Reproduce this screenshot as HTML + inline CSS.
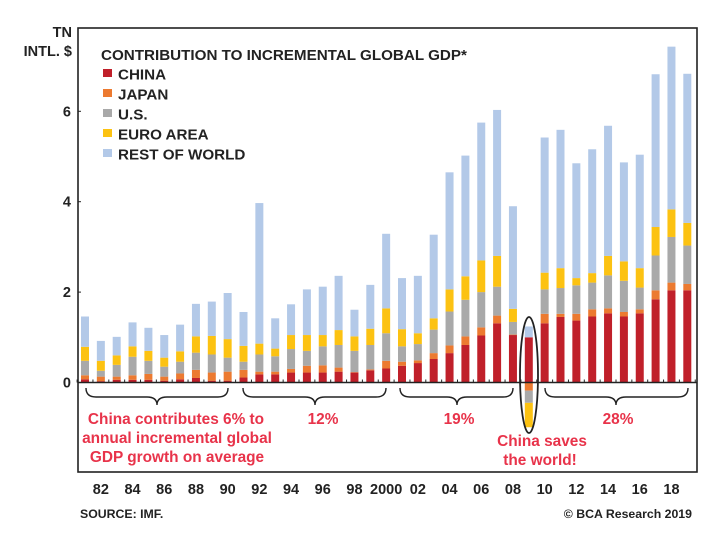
<!DOCTYPE html>
<html><head><meta charset="utf-8">
<style>
html,body{margin:0;padding:0;background:#fff;}
svg{display:block;font-family:"Liberation Sans",Arial,sans-serif;}
</style></head>
<body>
<svg id="chart" width="714" height="538" viewBox="0 0 714 538" xmlns="http://www.w3.org/2000/svg">
<rect x="0" y="0" width="714" height="538" fill="#fff"/>
<text x="72" y="37" text-anchor="end" font-size="14.5" font-weight="bold" fill="#222">TN</text>
<text x="72" y="56" text-anchor="end" font-size="14.5" font-weight="bold" fill="#222">INTL. $</text>
<rect x="78" y="28" width="619" height="444" fill="none" stroke="#222" stroke-width="1.6"/>
<g id="bars"></g>
<g id="axis"></g>
<text x="101" y="60" font-size="15.2" font-weight="bold" fill="#222">CONTRIBUTION TO INCREMENTAL GLOBAL GDP*</text>
<g id="legend"></g>
<g fill="none" stroke="#222" stroke-width="1.4">
<path d="M86,388 Q86,397 96,397 L147,397 Q157,397 157,405 Q157,397 167,397 L218,397 Q228,397 228,388"/>
<path d="M243,388 Q243,397 253,397 L305,397 Q315,397 315,405 Q315,397 325,397 L376,397 Q386,397 386,388"/>
<path d="M400,388 Q400,397 410,397 L447,397 Q457,397 457,405 Q457,397 467,397 L503,397 Q513,397 513,388"/>
<path d="M545,388 Q545,397 555,397 L606,397 Q616,397 616,405 Q616,397 626,397 L678,397 Q688,397 688,388"/>
<ellipse cx="529" cy="375" rx="9" ry="58" stroke-width="1.8"/>
</g>
<g font-size="15.4" font-weight="bold" fill="#e8334a" text-anchor="middle">
<text x="176" y="424">China contributes 6% to</text>
<text x="177" y="443">annual incremental global</text>
<text x="177" y="462">GDP growth on average</text>
<text x="323" y="424">12%</text>
<text x="459" y="424">19%</text>
<text x="618" y="424">28%</text>
<text x="542" y="446">China saves</text>
<text x="540" y="465">the world!</text>
</g>
<text x="80" y="518" font-size="12.3" font-weight="bold" fill="#222">SOURCE: IMF.</text>
<text x="692" y="518" text-anchor="end" font-size="12.3" font-weight="bold" fill="#222">© BCA Research 2019</text>
</svg>
<script>
const years = [1981,1982,1983,1984,1985,1986,1987,1988,1989,1990,1991,1992,1993,1994,1995,1996,1997,1998,1999,2000,2001,2002,2003,2004,2005,2006,2007,2008,2009,2010,2011,2012,2013,2014,2015,2016,2017,2018,2019];
const china = [.07,.03,.06,.06,.06,.04,.07,.10,.04,.04,.11,.18,.18,.22,.22,.22,.24,.22,.27,.31,.37,.43,.52,.65,.83,1.04,1.31,1.05,1.00,1.31,1.45,1.37,1.46,1.53,1.46,1.53,1.84,2.04,2.04];
const japan = [.09,.10,.07,.10,.13,.09,.13,.18,.18,.20,.17,.06,.06,.08,.15,.16,.09,.01,.02,.17,.09,.06,.13,.17,.19,.18,.17,.01,-.18,.21,.07,.15,.16,.11,.10,.09,.20,.17,.14];
const us = [.32,.13,.26,.41,.29,.22,.26,.38,.40,.31,.18,.38,.34,.44,.33,.42,.50,.47,.54,.61,.34,.36,.52,.75,.81,.78,.64,.28,-.27,.54,.57,.63,.59,.73,.69,.48,.77,1.01,.85];
const euro = [.31,.22,.21,.23,.22,.20,.23,.36,.41,.41,.35,.24,.17,.31,.35,.25,.33,.32,.36,.55,.38,.24,.25,.49,.52,.70,.68,.29,-.54,.37,.44,.16,.21,.43,.43,.43,.63,.61,.50];
const row = [.67,.44,.41,.53,.51,.50,.59,.72,.76,1.02,.75,3.11,.67,.68,1.01,1.07,1.20,.59,.97,1.65,1.13,1.27,1.85,2.59,2.67,3.05,3.23,2.27,.24,2.99,3.06,2.54,2.74,2.88,2.19,2.51,3.38,3.60,3.30];
const yTicks = [0,2,4,6];
const xTickLabels = ["82","84","86","88","90","92","94","96","98","2000","02","04","06","08","10","12","14","16","18"];
const xTickYears = [1982,1984,1986,1988,1990,1992,1994,1996,1998,2000,2002,2004,2006,2008,2010,2012,2014,2016,2018];

const NS="http://www.w3.org/2000/svg";
const x = yr => 85 + (yr-1981)*15.85;
const y = v => 382.5 - v*45.2;
const series = [
 {name:"china",label:"CHINA",vals:china,color:"#c0202a"},
 {name:"japan",label:"JAPAN",vals:japan,color:"#ec7a30"},
 {name:"us",label:"U.S.",vals:us,color:"#a9a9a9"},
 {name:"euro",label:"EURO AREA",vals:euro,color:"#fcc212"},
 {name:"row",label:"REST OF WORLD",vals:row,color:"#b3c9e8"}
];
const bars=document.getElementById('bars');
const bw=8;
years.forEach((yr,i)=>{
  let pos=0,neg=0;
  series.forEach(s=>{
    const v=s.vals[i];
    let a,b;
    if(v>=0){a=pos;b=pos+v;pos=b;}else{a=neg;b=neg+v;neg=b;}
    const r=document.createElementNS(NS,'rect');
    r.setAttribute('x',x(yr)-bw/2);
    r.setAttribute('y',Math.min(y(a),y(b)));
    r.setAttribute('width',bw);
    r.setAttribute('height',Math.abs(y(a)-y(b)));
    r.setAttribute('fill',s.color);
    
    
    bars.appendChild(r);
  });
});
const axis=document.getElementById('axis');
function line(x1,y1,x2,y2,w,nm){
  const l=document.createElementNS(NS,'line');
  l.setAttribute('x1',x1);l.setAttribute('y1',y1);l.setAttribute('x2',x2);l.setAttribute('y2',y2);
  l.setAttribute('stroke','#222');l.setAttribute('stroke-width',w);
  
  
  axis.appendChild(l);
}
function text(tx,ty,str,anchor,nm){
  const t=document.createElementNS(NS,'text');
  t.setAttribute('x',tx);t.setAttribute('y',ty);t.setAttribute('text-anchor',anchor);
  t.setAttribute('font-size','14.5');t.setAttribute('font-weight','bold');t.setAttribute('fill','#222');
  t.textContent=str;
  
  
  axis.appendChild(t);
}
line(78,y(0),697,y(0),1.6,'zero-line');
yTicks.forEach(v=>{
  line(78,y(v),81,y(v),1,'y-tick');
  text(71,y(v)+5,String(v),'end','y-tick-label');
});
for(let yr=1981;yr<=2020;yr++){ line(x(yr)-7.9,y(0),x(yr)-7.9,y(0)-3,1,'x-tick'); }
xTickLabels.forEach((lab,i)=>{ text(x(xTickYears[i]),494,lab,'middle','x-tick-label'); });
const legend=document.getElementById('legend');
series.forEach((s,i)=>{
  const ly=74+i*20;
  const r=document.createElementNS(NS,'rect');
  r.setAttribute('x',103);r.setAttribute('y',ly-5);r.setAttribute('width',9);r.setAttribute('height',8);r.setAttribute('fill',s.color);
  
  
  legend.appendChild(r);
  const t=document.createElementNS(NS,'text');
  t.setAttribute('x',118);t.setAttribute('y',ly+5.5);t.setAttribute('font-size','15.2');t.setAttribute('font-weight','bold');t.setAttribute('fill','#222');
  t.textContent=s.label;
  
  
  legend.appendChild(t);
});
</script>
</body></html>
